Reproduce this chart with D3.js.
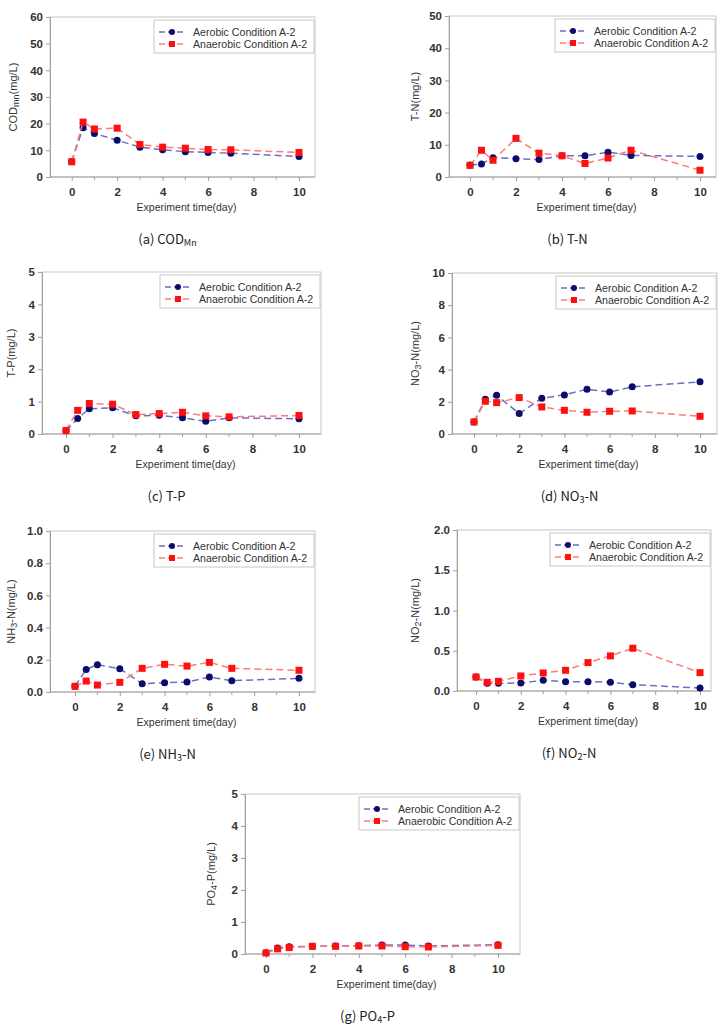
<!DOCTYPE html>
<html>
<head>
<meta charset="utf-8">
<script src="https://cdn.jsdelivr.net/npm/d3@7"></script>
<style>
  body { margin: 0; background: #fff; }
  svg text { font-family: "Liberation Sans", Arial, sans-serif; }
</style>
</head>
<body>
<div id="chart"></div>
<script>
// data
var days = [0, 0.5, 1, 2, 3, 4, 5, 6, 7, 10];
var xTicks = [0, 2, 4, 6, 8, 10];
var xMinor = [1, 3, 5, 7, 9];
var seriesNames = ["Aerobic Condition A-2", "Anaerobic Condition A-2"];

var codAer = [5.8, 18.5, 16.3, 13.8, 11.2, 10.2, 9.5, 9.2, 8.9, 7.7];
var codAna = [5.7, 20.6, 18.0, 18.3, 12.2, 11.2, 10.8, 10.3, 10.2, 9.2];
var tnAer = [3.7, 4.0, 6.0, 5.7, 5.4, 6.6, 6.6, 7.7, 6.7, 6.4];
var tnAna = [3.6, 8.3, 5.2, 12.0, 7.4, 6.6, 4.2, 5.9, 8.3, 2.1];
var tpAer = [0.10, 0.48, 0.78, 0.81, 0.56, 0.58, 0.50, 0.39, 0.50, 0.47];
var tpAna = [0.11, 0.73, 0.94, 0.92, 0.60, 0.63, 0.67, 0.56, 0.53, 0.57];
var no3Aer = [0.75, 2.16, 2.40, 1.27, 2.22, 2.43, 2.78, 2.61, 2.93, 3.24];
var no3Ana = [0.75, 2.03, 1.95, 2.26, 1.68, 1.47, 1.35, 1.41, 1.43, 1.10];
var nh3Aer = [0.035, 0.140, 0.170, 0.145, 0.052, 0.058, 0.062, 0.093, 0.070, 0.085];
var nh3Ana = [0.035, 0.068, 0.043, 0.060, 0.147, 0.172, 0.161, 0.184, 0.147, 0.135];
var no2Aer = [0.174, 0.095, 0.095, 0.100, 0.133, 0.116, 0.116, 0.108, 0.079, 0.037];
var no2Ana = [0.174, 0.108, 0.120, 0.187, 0.224, 0.257, 0.353, 0.436, 0.531, 0.228];
var po4Aer = [0.04, 0.19, 0.23, 0.24, 0.25, 0.26, 0.28, 0.28, 0.25, 0.29];
var po4Ana = [0.03, 0.16, 0.20, 0.24, 0.24, 0.25, 0.25, 0.23, 0.22, 0.27];

var codTicks = [0, 10, 20, 30, 40, 50, 60];
var tnTicks = [0, 10, 20, 30, 40, 50];
var tpTicks = [0, 1, 2, 3, 4, 5];
var no3Ticks = [0, 2, 4, 6, 8, 10];
var nh3Ticks = [0, 0.2, 0.4, 0.6, 0.8, 1.0];
var no2Ticks = [0, 0.5, 1.0, 1.5, 2.0];
var po4Ticks = [0, 1, 2, 3, 4, 5];

// panel layout: frame box, and pixel spots of day 0 and day 10
var panels = [
  {id: "a", aer: codAer, ana: codAna, ticks: codTicks, fmt: d3.format("d"),
   yt: ["COD", "mn", "(mg/L)"], cap: ["(a)  COD", "Mn", ""],
   l: 50, r: 315, t: 17, b: 177, x0: 71.7, x10: 299, ytx: 17},
  {id: "b", aer: tnAer, ana: tnAna, ticks: tnTicks, fmt: d3.format("d"),
   yt: ["T-N(mg/L)", "", ""], cap: ["(b)  T-N", "", ""],
   l: 449, r: 716, t: 16, b: 177, x0: 470, x10: 700, ytx: 419},
  {id: "c", aer: tpAer, ana: tpAna, ticks: tpTicks, fmt: d3.format("d"),
   yt: ["T-P(mg/L)", "", ""], cap: ["(c)  T-P", "", ""],
   l: 42, r: 321, t: 272, b: 434, x0: 66, x10: 299, ytx: 15},
  {id: "d", aer: no3Aer, ana: no3Ana, ticks: no3Ticks, fmt: d3.format("d"),
   yt: ["NO", "3", "-N(mg/L)"], cap: ["(d)  NO", "3", "-N"],
   l: 452, r: 717, t: 273, b: 434, x0: 474, x10: 700, ytx: 419},
  {id: "e", aer: nh3Aer, ana: nh3Ana, ticks: nh3Ticks, fmt: d3.format(".1f"),
   yt: ["NH", "3", "-N(mg/L)"], cap: ["(e)  NH", "3", "-N"],
   l: 50, r: 315, t: 531, b: 692, x0: 75, x10: 299, ytx: 15},
  {id: "f", aer: no2Aer, ana: no2Ana, ticks: no2Ticks, fmt: d3.format(".1f"),
   yt: ["NO", "2", "-N(mg/L)"], cap: ["(f)  NO", "2", "-N"],
   l: 457, r: 711, t: 530, b: 691, x0: 476, x10: 700, ytx: 419},
  {id: "g", aer: po4Aer, ana: po4Ana, ticks: po4Ticks, fmt: d3.format("d"),
   yt: ["PO", "4", "-P(mg/L)"], cap: ["(g)  PO", "4", "-P"],
   l: 245, r: 520, t: 794, b: 954, x0: 266, x10: 498, ytx: 215}
];

var aerLine = "#6d6dc4", aerMark = "#0b0b6b";
var anaLine = "#ff7a7a", anaMark = "#ff1010";

var svg = d3.select("#chart").append("svg")
  .attr("width", 728)
  .attr("height", 1028);

var addSubText = function (sel, parts, subSize) {
  sel.append("tspan").text(parts[0]);
  if (parts[1]) {
    sel.append("tspan").attr("baseline-shift", "-25%").attr("font-size", subSize).text(parts[1]);
    sel.append("tspan").attr("baseline-shift", "0%").text(parts[2]);
  }
};

var drawSeries = function (g, x, y, vals, lineCol, markCol, square) {
  var pts = days.map(function (d, i) { return [d, vals[i]]; });
  var line = d3.line()
    .x(function (d) { return x(d[0]); })
    .y(function (d) { return y(d[1]); });
  g.append("path")
    .datum(pts)
    .attr("d", line)
    .attr("fill", "none")
    .attr("stroke", lineCol)
    .attr("stroke-width", 1.5)
    .attr("stroke-dasharray", "7,4");
  if (square) {
    g.selectAll(null).data(pts).enter().append("rect")
      .attr("x", function (d) { return x(d[0]) - 3.5; })
      .attr("y", function (d) { return y(d[1]) - 3.5; })
      .attr("width", 7).attr("height", 7)
      .attr("fill", markCol);
  } else {
    g.selectAll(null).data(pts).enter().append("circle")
      .attr("cx", function (d) { return x(d[0]); })
      .attr("cy", function (d) { return y(d[1]); })
      .attr("r", 3.5)
      .attr("fill", markCol);
  }
};

panels.forEach(function (p) {
  var g = svg.append("g").attr("class", "panel-" + p.id);
  var x = d3.scaleLinear().domain([0, 10]).range([p.x0, p.x10]);
  var y = d3.scaleLinear().domain([0, d3.max(p.ticks)]).range([p.b, p.t]);

  // frame
  g.append("rect")
    .attr("x", p.l).attr("y", p.t)
    .attr("width", p.r - p.l).attr("height", p.b - p.t)
    .attr("fill", "none").attr("stroke", "#c8c8c8").attr("stroke-width", 1);

  // y axis
  var yAxis = g.append("g")
    .attr("transform", "translate(" + p.l + ",0)")
    .call(d3.axisLeft(y).tickValues(p.ticks).tickFormat(p.fmt).tickSize(4).tickPadding(3));
  yAxis.select(".domain").attr("stroke", "#a0a0a0");
  yAxis.selectAll(".tick line").attr("stroke", "#a0a0a0");
  yAxis.selectAll("text").attr("font-size", 11.5).attr("font-weight", "bold").attr("fill", "#333");

  // x axis
  var xAxis = g.append("g")
    .attr("transform", "translate(0," + p.b + ")")
    .call(d3.axisBottom(x).tickValues(xTicks).tickFormat(d3.format("d")).tickSize(4).tickPadding(7));
  xAxis.select(".domain").attr("d", "M" + p.l + ",0H" + p.r).attr("stroke", "#a0a0a0");
  xAxis.selectAll(".tick line").attr("stroke", "#a0a0a0");
  xAxis.selectAll("text").attr("font-size", 11.5).attr("font-weight", "bold").attr("fill", "#333");
  g.selectAll(null).data(xMinor).enter().append("line")
    .attr("x1", function (d) { return x(d); }).attr("x2", function (d) { return x(d); })
    .attr("y1", p.b).attr("y2", p.b + 3)
    .attr("stroke", "#a0a0a0");

  // series
  drawSeries(g, x, y, p.aer, aerLine, aerMark, false);
  drawSeries(g, x, y, p.ana, anaLine, anaMark, true);

  // legend
  var lg = g.append("g").attr("transform", "translate(" + (p.r - 161) + "," + (p.t + 3) + ")");
  lg.append("rect").attr("width", 160).attr("height", 33)
    .attr("fill", "#fff").attr("stroke", "#c8c8c8");
  [0, 1].forEach(function (i) {
    var yy = 12 + i * 12;
    lg.append("line").attr("x1", 5).attr("x2", 31).attr("y1", yy).attr("y2", yy)
      .attr("stroke", i ? anaLine : aerLine).attr("stroke-width", 1.5)
      .attr("stroke-dasharray", "6,3");
    if (i) {
      lg.append("rect").attr("x", 15).attr("y", yy - 3).attr("width", 6).attr("height", 6).attr("fill", anaMark);
    } else {
      lg.append("circle").attr("cx", 18).attr("cy", yy).attr("r", 3).attr("fill", aerMark);
    }
    lg.append("text").attr("x", 39).attr("y", yy + 4)
      .attr("font-size", 10.6).attr("fill", "#333")
      .text(seriesNames[i]);
  });

  // axis titles
  var yt = g.append("text")
    .attr("transform", "translate(" + p.ytx + "," + ((p.t + p.b) / 2) + ") rotate(-90)")
    .attr("text-anchor", "middle")
    .attr("font-size", 11).attr("fill", "#333");
  addSubText(yt, p.yt, 9);

  g.append("text")
    .attr("x", (p.l + p.r) / 2 + 4).attr("y", p.b + 34)
    .attr("text-anchor", "middle")
    .attr("font-size", 10.5).attr("fill", "#333")
    .text("Experiment time(day)");

  var cap = g.append("text")
    .attr("x", (p.l + p.r) / 2 - 15).attr("y", p.b + 67)
    .attr("text-anchor", "middle")
    .attr("font-size", 13).attr("fill", "#222")
    .style("font-family", "'Noto Sans CJK KR', 'DejaVu Sans', sans-serif");
  addSubText(cap, p.cap, 9);
});
</script>
</body>
</html>
